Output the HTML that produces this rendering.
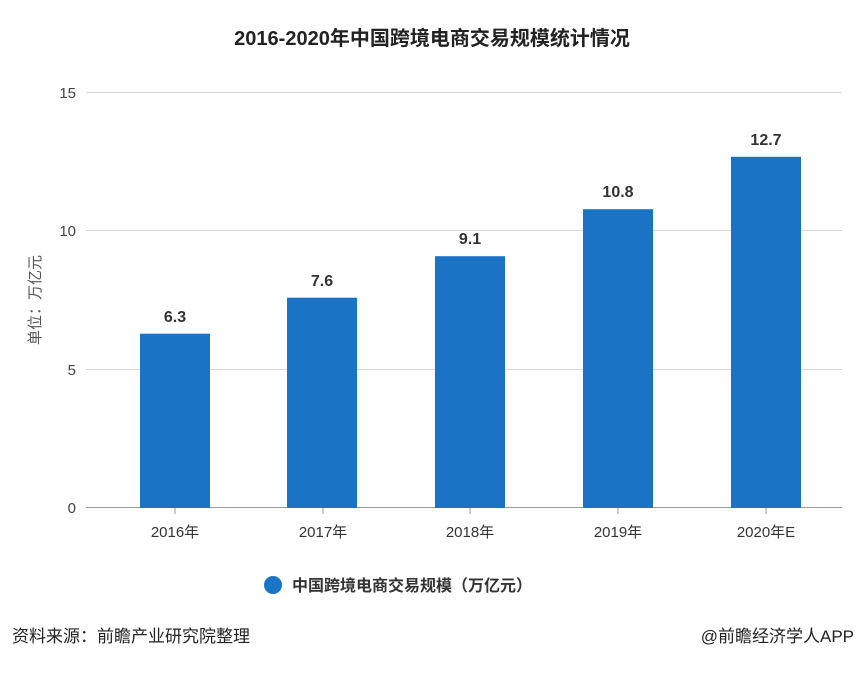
<!DOCTYPE html>
<html><head><meta charset="utf-8"><style>
body{margin:0;width:864px;height:670px;background:#fff;overflow:hidden}
svg text{font-family:"Liberation Sans","Noto Sans CJK SC",sans-serif}
</style></head><body>
<svg width="864" height="670" viewBox="0 0 864 670">
<text x="432" y="45" text-anchor="middle" font-size="20" font-weight="bold" fill="#222">2016-2020年中国跨境电商交易规模统计情况</text>
<g stroke="#d8d8d8" stroke-width="1">
<line x1="86" y1="92.5" x2="842" y2="92.5"/>
<line x1="86" y1="230.5" x2="842" y2="230.5"/>
<line x1="86" y1="369.5" x2="842" y2="369.5"/>
</g>
<line x1="86" y1="507.5" x2="842" y2="507.5" stroke="#999" stroke-width="1"/>
<g stroke="#999"><line x1="175" y1="508" x2="175" y2="514"/><line x1="323" y1="508" x2="323" y2="514"/><line x1="470" y1="508" x2="470" y2="514"/><line x1="618" y1="508" x2="618" y2="514"/><line x1="766" y1="508" x2="766" y2="514"/></g>
<g font-size="15" fill="#444" text-anchor="end">
<text x="76" y="98">15</text><text x="76" y="236">10</text><text x="76" y="375">5</text><text x="76" y="513">0</text>
</g>
<text transform="translate(40,300) rotate(-90)" text-anchor="middle" font-size="15" fill="#555">单位：万亿元</text>
<g fill="#1a73c4">
<rect x="140" y="333.7" width="70" height="174.3"/>
<rect x="287" y="297.7" width="70" height="210.3"/>
<rect x="435" y="256.2" width="70" height="251.8"/>
<rect x="583" y="209.2" width="70" height="298.8"/>
<rect x="731" y="156.8" width="70" height="351.2"/>
</g>
<g font-size="16" font-weight="bold" fill="#333" text-anchor="middle">
<text x="175" y="322">6.3</text><text x="322" y="286">7.6</text><text x="470" y="244">9.1</text><text x="618" y="197">10.8</text><text x="766" y="145">12.7</text>
</g>
<g font-size="15" fill="#333" text-anchor="middle">
<text x="175" y="537">2016年</text><text x="323" y="537">2017年</text><text x="470" y="537">2018年</text><text x="618" y="537">2019年</text><text x="766" y="537">2020年E</text>
</g>
<circle cx="273" cy="585" r="9" fill="#1a73c4"/>
<text x="292" y="591" font-size="16" font-weight="bold" fill="#333">中国跨境电商交易规模（万亿元）</text>
<text x="12" y="642" font-size="17" fill="#222">资料来源：前瞻产业研究院整理</text>
<text x="854" y="642" font-size="17" fill="#222" text-anchor="end">@前瞻经济学人APP</text>
</svg>
</body></html>
